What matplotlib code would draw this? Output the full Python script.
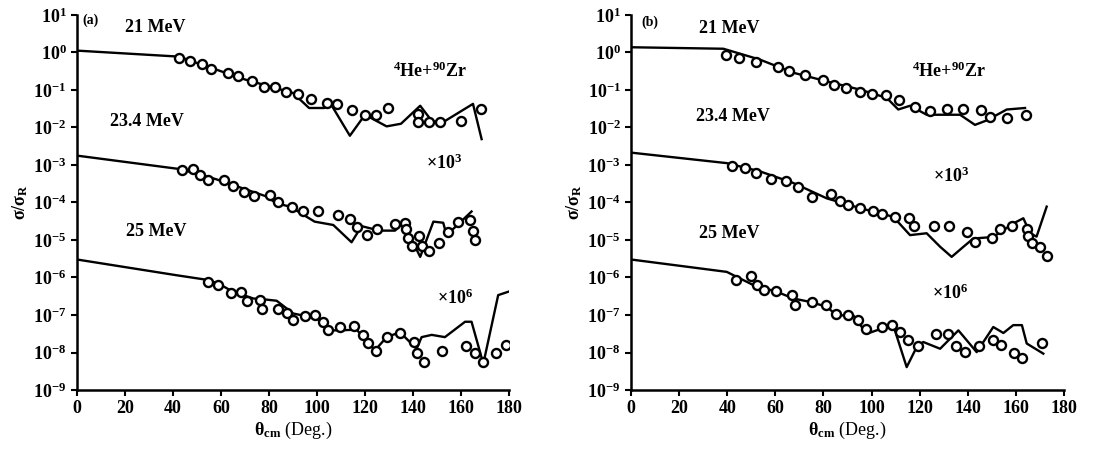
import numpy as np
import matplotlib
matplotlib.use("Agg")
import matplotlib.pyplot as plt

plt.rcParams["font.family"] = ["Liberation Serif", "DejaVu Serif"]
plt.rcParams["font.weight"] = "bold"
plt.rcParams["mathtext.fontset"] = "custom"
plt.rcParams["mathtext.rm"] = "Liberation Serif:bold"
plt.rcParams["mathtext.it"] = "Liberation Serif:italic:bold"
plt.rcParams["mathtext.bf"] = "Liberation Serif:bold"
plt.rcParams["mathtext.default"] = "rm"

# ---- panel (a): values are log10(sigma/sigma_R), already scaled ----
a21_x = [42.5, 47, 52, 55.7, 63, 67.2, 73, 78, 82.5, 87, 92.2, 97.4, 104.3, 108.2,
         114.7, 120, 124.4, 129.4, 142.2, 142.2, 146.8, 151.3, 160, 168.2]
a21_y = [-0.16, -0.23, -0.30, -0.45, -0.56, -0.63, -0.77, -0.92, -0.93, -1.05, -1.12,
         -1.23, -1.34, -1.37, -1.54, -1.67, -1.67, -1.48, -1.63, -1.86, -1.86, -1.85,
         -1.84, -1.52]
a21_fx = [0, 42.5, 50, 60, 70, 80, 90, 96.7, 103, 106, 113.7, 120, 129, 135, 143, 148,
          153, 165, 168.6]
a21_fy = [0.05, -0.11, -0.28, -0.5, -0.72, -0.9, -1.08, -1.48, -1.48, -1.4, -2.22,
          -1.66, -1.97, -1.9, -1.42, -1.84, -1.84, -1.37, -2.31]

a23_x = [43.6, 48.2, 51.25, 54.7, 61.25, 65.1, 69.7, 73.75, 80.4, 83.6, 89.7, 94, 100.6,
         108.9, 113.75, 116.5, 120.7, 125.1, 132.5, 136.7, 137.1, 138, 139.7, 142.6,
         143.6, 146.8, 150.8, 154.7, 158.6, 163.75, 165.1, 165.8]
a23_y = [-3.13, -3.10, -3.26, -3.41, -3.40, -3.56, -3.73, -3.84, -3.81, -3.98, -4.13,
         -4.22, -4.24, -4.33, -4.45, -4.66, -4.87, -4.71, -4.57, -4.55, -4.71, -4.95,
         -5.16, -4.89, -5.16, -5.29, -5.09, -4.80, -4.51, -4.48, -4.75, -5.00]
a23_fx = [0, 43, 58, 79, 83, 88.75, 99, 106.8, 114.4, 118.6, 126, 132.5, 136, 143,
          148.5, 152.6, 154, 157.5, 164.4]
a23_fy = [-2.75, -3.11, -3.38, -3.84, -4.02, -4.11, -4.51, -4.6, -5.06, -4.63, -4.75,
          -4.75, -4.54, -5.45, -4.51, -4.54, -4.87, -4.66, -4.24]

a25_x = [54.7, 58.8, 64.1, 68.4, 70.7, 76.25, 77.2, 83.6, 87.6, 90.1, 95, 99.2, 102.6,
         104.7, 109.6, 115.5, 119.3, 121.4, 124.6, 129, 134.6, 140.5, 141.5, 144.7,
         152, 162, 165.8, 169.3, 174.6, 178.75]
a25_y = [-6.11, -6.20, -6.41, -6.38, -6.62, -6.59, -6.84, -6.83, -6.94, -7.12, -7.03,
         -6.99, -7.18, -7.39, -7.32, -7.30, -7.54, -7.75, -7.97, -7.59, -7.48, -7.72,
         -8.01, -8.24, -7.97, -7.83, -8.01, -8.24, -8.01, -7.79]
a25_fx = [0, 41.5, 55, 60, 65, 73.5, 79, 83.2, 90.1, 99.9, 105.4, 109.6, 116.5, 124.2,
          129, 134.6, 141.5, 143.6, 147.8, 153.3, 161.7, 164.4, 169.3, 175.5, 179.7]
a25_fy = [-5.52, -5.94, -6.07, -6.2, -6.38, -6.56, -6.59, -6.62, -6.96, -7.09, -7.41,
          -7.41, -7.39, -7.94, -7.59, -7.46, -7.9, -7.59, -7.53, -7.59, -7.18, -7.18,
          -8.30, -6.47, -6.38]

# ---- panel (b) ----
b21_x = [39.4, 44.9, 51.8, 61.2, 65.7, 72.3, 80, 84.5, 89.2, 95.2, 100.3, 105.9, 111.4,
         118.1, 124.3, 131.5, 138.2, 145.4, 149.2, 156.4, 164.2]
b21_y = [-0.08, -0.14, -0.25, -0.38, -0.50, -0.61, -0.74, -0.88, -0.94, -1.05, -1.12,
         -1.14, -1.27, -1.45, -1.55, -1.50, -1.50, -1.54, -1.72, -1.75, -1.68]
b21_fx = [0, 38.4, 53.6, 67.5, 81.4, 95.2, 106.3, 111.1, 116, 122.9, 136.8, 143, 147.9,
          156.2, 163.8]
b21_fy = [0.14, 0.10, -0.19, -0.54, -0.77, -0.99, -1.21, -1.52, -1.42, -1.66, -1.66,
          -1.93, -1.81, -1.52, -1.48]

b23_x = [42.1, 47.4, 51.8, 58.1, 64.3, 69.6, 75.4, 83, 86.9, 90.1, 95.2, 100.5, 104.5,
         109.7, 115.7, 117.8, 126, 132.3, 139.5, 143, 150.2, 153.4, 158.2, 164.5, 164.9,
         166.8, 170, 172.8]
b23_y = [-3.02, -3.08, -3.22, -3.38, -3.44, -3.59, -3.86, -3.77, -3.96, -4.06, -4.15,
         -4.22, -4.30, -4.39, -4.42, -4.64, -4.63, -4.63, -4.78, -5.05, -4.94, -4.72,
         -4.63, -4.72, -4.89, -5.09, -5.20, -5.42]
b23_fx = [0, 39.8, 53.6, 67.5, 81.4, 95.2, 109, 116, 122.9, 128.5, 133.3, 138.2, 142.3,
          150.6, 158.9, 163.1, 165.9, 168.6, 172.8]
b23_fy = [-2.67, -2.95, -3.17, -3.48, -3.89, -4.15, -4.38, -4.87, -4.82, -5.18, -5.45,
          -5.18, -4.96, -4.92, -4.56, -4.42, -4.82, -4.91, -4.11]

b25_x = [43.5, 49.8, 52.3, 55.3, 60.3, 67.1, 68.2, 75.4, 80.9, 85.1, 90.3, 94.5, 97.7,
         104.2, 108.6, 111.8, 115, 119.4, 126.7, 131.6, 135.1, 138.8, 144.7, 150.4,
         153.8, 159.3, 162.7, 171]
b25_y = [-6.07, -5.96, -6.2, -6.34, -6.36, -6.47, -6.72, -6.65, -6.74, -6.96, -7.01,
         -7.12, -7.36, -7.33, -7.27, -7.45, -7.67, -7.83, -7.51, -7.50, -7.83, -7.99,
         -7.83, -7.67, -7.79, -8.01, -8.15, -7.75]
b25_fx = [0, 39.8, 50.8, 60.6, 67.5, 74.4, 81.4, 85.5, 92.4, 98, 102.1, 109, 114.6,
          118.8, 121.5, 128.5, 136.1, 143.7, 150.6, 154.8, 158.9, 162.5, 164.5, 171.4]
b25_fy = [-5.52, -5.85, -6.2, -6.38, -6.56, -6.65, -6.78, -7.01, -7.01, -7.5, -7.41,
          -7.27, -8.39, -7.85, -7.72, -7.9, -7.41, -7.99, -7.32, -7.48, -7.27, -7.27,
          -7.76, -8.03]

panels = {
    "a": [(a21_x, a21_y, a21_fx, a21_fy), (a23_x, a23_y, a23_fx, a23_fy),
          (a25_x, a25_y, a25_fx, a25_fy)],
    "b": [(b21_x, b21_y, b21_fx, b21_fy), (b23_x, b23_y, b23_fx, b23_fy),
          (b25_x, b25_y, b25_fx, b25_fy)],
}

# text labels: (text, x in deg, log10 y, size)
labels_a = [("(a)", 5.5, 0.85, 10), ("21 MeV", 32.5, 0.66, 13), ("23.4 MeV", 29, -1.84, 13),
            ("25 MeV", 33, -4.78, 13), (r"$^{4}$He+$^{90}$Zr", 147, -0.5, 13),
            (r"$\times$10$^{3}$", 153, -2.95, 13), (r"$\times$10$^{6}$", 157.5, -6.56, 13)]
labels_b = [("(b)", 8, 0.8, 10), ("21 MeV", 41, 0.63, 13), ("23.4 MeV", 42.5, -1.72, 13),
            ("25 MeV", 41, -4.84, 13), (r"$^{4}$He+$^{90}$Zr", 132, -0.5, 13),
            (r"$\times$10$^{3}$", 133, -3.3, 13), (r"$\times$10$^{6}$", 132.6, -6.43, 13)]


def draw(ax, series, labels):
    for px, py, fx, fy in series:
        ax.plot(fx, 10 ** np.array(fy), color="black", lw=1.7, zorder=2)
        ax.plot(px, 10 ** np.array(py), "o", mfc="white", mec="black", mew=1.7,
                ms=6.5, zorder=3)
    for txt, x, y, fs in labels:
        ax.text(x, 10 ** y, txt, fontsize=fs, ha="center", va="center")
    ax.set_yscale("log")
    ax.set_xlim(0, 180)
    ax.set_ylim(1e-9, 1e1)
    ax.set_xticks(np.arange(0, 181, 20))
    ax.set_yticks([10.0 ** k for k in range(-9, 2)])
    ax.yaxis.set_minor_locator(matplotlib.ticker.NullLocator())
    for s in ["top", "right"]:
        ax.spines[s].set_visible(False)
    for s in ["left", "bottom"]:
        ax.spines[s].set_linewidth(1.8)
    ax.tick_params(direction="out", length=4, width=1.5, labelsize=13)


fig = plt.figure(figsize=(11.2, 4.49), dpi=100)
ax1 = fig.add_axes([0.06875, 0.1314, 0.3857, 0.8352])
ax2 = fig.add_axes([0.5634, 0.1314, 0.3866, 0.8352])
draw(ax1, panels["a"], labels_a)
draw(ax2, panels["b"], labels_b)

for ax in (ax1, ax2):
    ax.set_xlabel(r"$\theta_{\rm cm}$ (Deg.)", fontsize=13, labelpad=2)
    ax.set_ylabel(r"$\sigma/\sigma_{\rm R}$", fontsize=13, labelpad=2)

fig.savefig("out.png", dpi=100)
